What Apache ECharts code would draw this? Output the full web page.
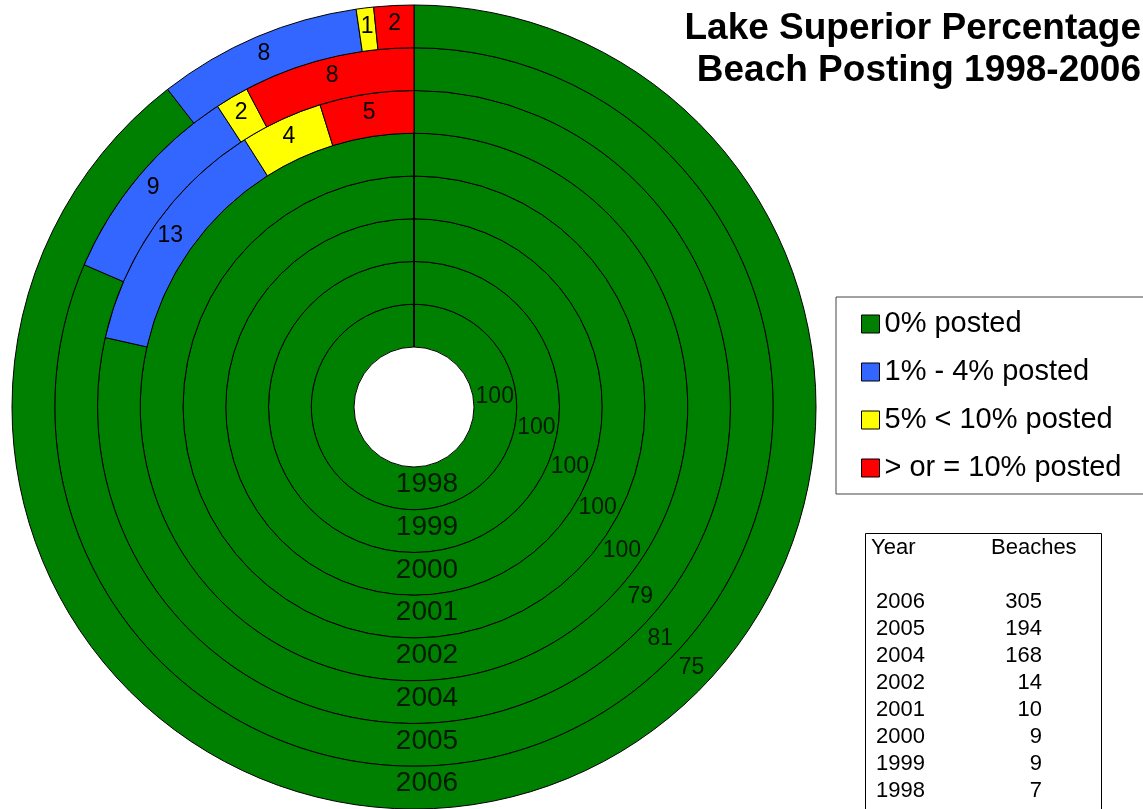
<!DOCTYPE html>
<html>
<head>
<meta charset="utf-8">
<script src="https://cdn.jsdelivr.net/npm/echarts@6/dist/echarts.min.js"></script>
<style>
  body { margin: 0; background: #fff; }
  #chart { width: 1143px; height: 809px; }
</style>
</head>
<body>
<div id="chart"></div>
<script>
// rings, inner to outer (percent of beaches, read from the arcs)
var years = ['1998', '1999', '2000', '2001', '2002', '2004', '2005', '2006']
var posted0 = [100, 100, 100, 100, 100, 78.6, 81.4, 89.5]
var posted1to4 = [0, 0, 0, 0, 0, 12.5, 9.3, 8.2]
var posted5to10 = [0, 0, 0, 0, 0, 4.2, 1.5, 0.7]
var posted10plus = [0, 0, 0, 0, 0, 4.8, 7.7, 1.6]
// the numbers printed on the green parts (2006 is printed as 75)
var posted0Printed = [100, 100, 100, 100, 100, 79, 81, 75]

var catNames = ['0% posted', '1% - 4% posted', '5% < 10% posted', '> or = 10% posted']
var catValues = [posted0, posted1to4, posted5to10, posted10plus]

// small table on the right
var tableYears = ['2006', '2005', '2004', '2002', '2001', '2000', '1999', '1998']
var tableBeaches = [305, 194, 168, 14, 10, 9, 9, 7]

var catColors = ['#008000', '#3366ff', '#ffff00', '#ff0000']
var font = '"Liberation Sans", Arial, sans-serif'
var cx = 414, cy = 407, holeR = 60, outerR = 402
var ringW = (outerR - holeR) / years.length
// where the green value labels sit (angle on a 0-100 scale, clockwise from top)
var greenLabelAngle = [23, 27.6, 30.8, 33, 34.6, 36.1, 37, 37]
var yearLabelAngle = 50

var chart = echarts.init(document.getElementById('chart'))

var series = []
years.forEach(function (y, i) {
  series.push({
    type: 'pie',
    name: y,
    center: [cx, cy],
    radius: [holeR + i * ringW, holeR + (i + 1) * ringW],
    startAngle: 90,
    clockwise: true,
    avoidLabelOverlap: false,
    silent: true,
    animation: false,
    itemStyle: { borderColor: '#000', borderWidth: 1 },
    label: {
      show: true,
      position: 'inside',
      color: '#000',
      fontSize: 23,
      fontFamily: font,
      formatter: function (p) {
        if (p.dataIndex === 0 || !p.value) return ''
        return Math.round(p.value)
      }
    },
    labelLine: { show: false },
    data: catNames.map(function (n, k) {
      return { name: n, value: catValues[k][i], itemStyle: { color: catColors[k] } }
    })
  })
})

// year names at the bottom of each ring
series.push({
  type: 'scatter',
  coordinateSystem: 'polar',
  silent: true,
  z: 10,
  symbolSize: 1,
  itemStyle: { color: 'rgba(0,0,0,0)' },
  label: {
    show: true, position: 'inside', color: '#000', fontSize: 28, fontFamily: font,
    offset: [13, -4],
    formatter: function (p) { return years[p.dataIndex] }
  },
  data: years.map(function (y, i) { return [i, yearLabelAngle] })
})
// green values
series.push({
  type: 'scatter',
  coordinateSystem: 'polar',
  silent: true,
  z: 10,
  symbolSize: 1,
  itemStyle: { color: 'rgba(0,0,0,0)' },
  label: {
    show: true, position: 'inside', color: '#000', fontSize: 23, fontFamily: font,
    formatter: function (p) { return posted0Printed[p.dataIndex] }
  },
  data: years.map(function (y, i) { return [i, greenLabelAngle[i]] })
})

// title and table
var txt = function (x, y, s, size, extra) {
  var st = { text: s, fontSize: size, fontFamily: font, fill: '#000', textVerticalAlign: 'middle' }
  for (var k in extra) st[k] = extra[k]
  return { type: 'text', x: x, y: y, style: st }
}
var graphic = [
  txt(1141, 29, 'Lake Superior Percentage', 37, { fontWeight: 'bold', textAlign: 'right' }),
  txt(1141, 71, 'Beach Posting 1998-2006', 37, { fontWeight: 'bold', textAlign: 'right' }),
  { type: 'rect', shape: { x: 865.5, y: 533.5, width: 236, height: 300 },
    style: { fill: '#fff', stroke: '#000', lineWidth: 1 } },
  txt(871, 548, 'Year', 22),
  txt(991, 548, 'Beaches', 22)
]
tableYears.forEach(function (y, i) {
  graphic.push(txt(876, 602 + i * 27, y, 22))
  graphic.push(txt(1042, 602 + i * 27, String(tableBeaches[i]), 22, { textAlign: 'right' }))
})

chart.setOption({
  animation: false,
  legend: {
    data: catNames,
    orient: 'vertical',
    left: 836,
    top: 297,
    padding: [12, 30, 11, 25],
    itemGap: 18,
    itemWidth: 18,
    itemHeight: 18,
    icon: 'rect',
    selectedMode: false,
    borderColor: '#444',
    borderWidth: 1,
    itemStyle: { borderColor: '#000', borderWidth: 1 },
    textStyle: { fontSize: 29, color: '#000', fontFamily: font, lineHeight: 30 }
  },
  polar: { center: [cx, cy], radius: [holeR, outerR] },
  angleAxis: {
    type: 'value', min: 0, max: 100, startAngle: 90, clockwise: true,
    show: false, splitLine: { show: false }, axisLine: { show: false }
  },
  radiusAxis: {
    type: 'category', data: years,
    show: false, splitLine: { show: false }, axisLine: { show: false }
  },
  graphic: graphic,
  series: series
})
</script>
</body>
</html>
